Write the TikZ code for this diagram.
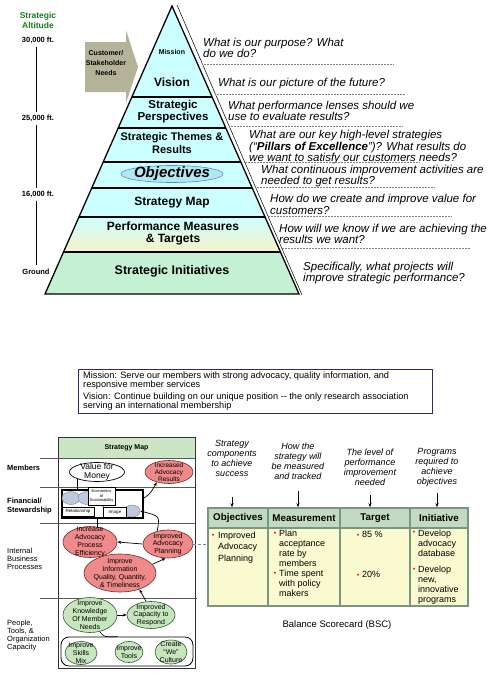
\documentclass[tikz,border=0pt]{standalone}
\usepackage{fontspec}
\setmainfont{Liberation Sans}
\usetikzlibrary{shapes.geometric,arrows.meta,calc}
\newcommand\fsz[2]{\fontsize{#1}{#2}\selectfont}
\definecolor{pcyan}{RGB}{204,255,255}
\definecolor{pyel}{RGB}{246,243,200}
\definecolor{pgrn}{RGB}{196,240,212}
\definecolor{objfill}{RGB}{178,232,240}
\definecolor{objline}{RGB}{90,140,200}
\definecolor{altgreen}{RGB}{30,120,30}
\definecolor{khaki}{RGB}{180,178,152}
\definecolor{navy}{RGB}{40,45,110}
\definecolor{smhead}{RGB}{204,229,196}
\definecolor{redfill}{RGB}{240,138,138}
\definecolor{redline}{RGB}{110,40,40}
\definecolor{grnfill}{RGB}{200,230,190}
\definecolor{grnline}{RGB}{50,90,50}
\definecolor{ovalgray}{RGB}{190,200,222}
\definecolor{bschead}{RGB}{194,218,194}
\definecolor{bscbody}{RGB}{250,250,208}
\definecolor{bscgrid}{RGB}{120,150,130}
\begin{document}
\begin{tikzpicture}[x=1pt,y=-1pt,
  pyr/.style={font=\fsz{12}{13}\bfseries, align=center, inner sep=0},
  qtext/.style={font=\fsz{11.5}{11.5}\itshape, align=left, anchor=north west, inner sep=0},
  sepline/.style={densely dotted, gray, line width=0.5},
  layline/.style={line width=1.6},
  ftl/.style={font=\fsz{7.5}{8}\bfseries, inner sep=0},
  lbl/.style={font=\fsz{7.5}{8}, align=left, anchor=west, inner sep=0},
  rowline/.style={gray!70!black, line width=0.5},
  redel/.style={ellipse, draw=redline, fill=redfill, line width=0.6, inner sep=0},
  grnel/.style={ellipse, draw=grnline, fill=grnfill, line width=0.6, inner sep=0},
  eltx/.style={align=center, font=\fsz{7}{7.8}, inner sep=0},
  arr/.style={-{Stealth[length=4pt,width=3pt]}, line width=0.7},
  hdrc/.style={rectangle, draw=bscgrid, line width=1.5, fill=bschead, font=\fsz{9.8}{11}\bfseries, inner sep=0, minimum height=20},
  bodyc/.style={rectangle, draw=bscgrid, line width=1.5, fill=bscbody, inner sep=0, minimum height=78},
  btx/.style={font=\fsz{9}{10}, align=left, anchor=north west, inner sep=0},
  bul/.style={font=\fsz{7}{7}, text=red, inner sep=0},
  bsch/.style={font=\fsz{9}{10}\itshape, align=center, inner sep=0}
]
\useasboundingbox (0,0) rectangle (497,673);

% ---------- Pyramid ----------
\fill[pcyan] (172,6) -- (212.1,97) -- (131.9,97) -- cycle;
\fill[pcyan] (131.9,97) -- (212.1,97) -- (225.8,128) -- (118.2,128) -- cycle;
\fill[pcyan] (118.2,128) -- (225.8,128) -- (240.8,162) -- (103.2,162) -- cycle;
\fill[pcyan] (103.2,162) -- (240.8,162) -- (252.3,188) -- (91.7,188) -- cycle;
\fill[pcyan] (91.7,188) -- (252.3,188) -- (265.0,217) -- (79.0,217) -- cycle;
\shade[top color=pcyan, middle color=pyel!70!pcyan, bottom color=pyel] (79.0,217) -- (265.0,217) -- (280.5,252) -- (63.5,252) -- cycle;
\fill[pgrn] (63.5,252) -- (280.5,252) -- (299,294) -- (45,294) -- cycle;
\draw[layline] (131.9,97) -- (212.1,97);
\draw[layline] (118.2,128) -- (225.8,128);
\draw[layline] (103.2,162) -- (240.8,162);
\draw[layline] (91.7,188) -- (252.3,188);
\draw[line width=1.1] (79.0,217) -- (265.0,217);
\draw[layline] (63.5,252) -- (280.5,252);
\draw[line width=1.3, line join=miter] (172,6) -- (299,294) -- (45,294) -- cycle;
\draw[line width=0.5] (177,5) -- (302,295);

\node[pyr, font=\fsz{7}{8}\bfseries] (mis) at (172,52) {Mission};
\node[pyr] (vis) at (172,82) {Vision};
\node[pyr, font=\fsz{11.5}{12}\bfseries] (spp) at (173,112) {Strategic\\Perspectives};
\node[pyr, font=\fsz{11}{13}\bfseries] (stm) at (172,143.5) {Strategic Themes \&\\Results};
\node[ellipse, draw=objline, fill=objfill, line width=0.6, minimum width=102, minimum height=17, inner sep=0,
      label={[font=\fsz{15}{15}\bfseries\itshape, inner sep=0]center:Objectives}] (obj) at (172,174) {};
\node[pyr] (smap) at (172,203) {Strategy Map};
\node[pyr, font=\fsz{12}{12.5}\bfseries] (pmt) at (173,233.5) {Performance Measures\\\& Targets};
\node[pyr, font=\fsz{12.5}{13}\bfseries] (sin) at (172,271) {Strategic Initiatives};

% ---------- Right-side questions ----------
\node[qtext] (q1) at (203,37.5) {What is our purpose? What\\do we do?};
\node[qtext] (q2) at (218,77.5) {What is our picture of the future?};
\node[qtext] (q3) at (228,100.5) {What performance lenses should we\\use to evaluate results?};
\node[qtext] (q4) at (249,130) {What are our key high-level strategies\\(``\textbf{Pillars of Excellence}'')? What results do\\we want to satisfy our customers needs?};
\node[qtext] (q5) at (261,164.5) {What continuous improvement activities are\\needed to get results?};
\node[qtext] (q6) at (270,194) {How do we create and improve value for\\customers?};
\node[qtext] (q7) at (279,223.5) {How will we know if we are achieving the\\results we want?};
\node[qtext] (q8) at (303,261.5) {Specifically, what projects will\\improve strategic performance?};
\draw[sepline] (202.4,64) -- (393,64);
\draw[sepline] (215.4,94) -- (405,94);
\draw[sepline] (229.2,126) -- (403,126);
\draw[sepline] (244.7,162) -- (420,162);
\draw[sepline] (255.4,187) -- (435,187);
\draw[sepline] (267.9,216) -- (452,216);
\draw[sepline] (281.7,248) -- (470,248);

% ---------- Altitude axis ----------
\node[font=\fsz{8.5}{10}\bfseries, text=altgreen, align=center, inner sep=0] (alt) at (38,20) {Strategic\\Altitude};
\node[ftl] (f30) at (38,40) {30,000 ft.};
\node[ftl] (f25) at (38,118) {25,000 ft.};
\node[ftl] (f16) at (38,194) {16,000 ft.};
\node[ftl] (gr) at (36,272) {Ground};
\draw[line width=0.8] ([yshift=-3pt]f30.south -| gr.center) -- ([yshift=3pt]f25.north -| gr.center);
\draw[line width=0.8] ([yshift=-3pt]f25.south -| gr.center) -- ([yshift=3pt]f16.north -| gr.center);
\draw[line width=0.8] ([yshift=-3pt]f16.south -| gr.center) -- ([yshift=4pt]gr.north);

% ---------- Customer arrow ----------
\fill[khaki] (85,42) -- (126,42) -- (126,30) -- (138,67) -- (126,103) -- (126,92) -- (85,92) -- cycle;
\node[font=\fsz{7}{10}\bfseries, align=center, inner sep=0] (cust) at (106,63) {Customer/\\Stakeholder\\Needs};

% ---------- Mission / Vision box ----------
\node[draw=navy, line width=1, minimum width=354, minimum height=44, inner sep=0] (mbox) at (255,391) {};
\node[font=\fsz{9.2}{9}, align=left, anchor=north west, inner sep=0] (m1) at (83,372) {Mission: Serve our members with strong advocacy, quality information, and\\responsive member services};
\node[font=\fsz{9.2}{9}, align=left, anchor=north west, inner sep=0] (m2) at (83,392.5) {Vision: Continue building on our unique position {-}{-} the only research association\\serving an international membership};

% ---------- Strategy Map ----------
\node[draw=black!80, line width=1, minimum width=137, minimum height=231, inner sep=0] (smbox) at (126.5,552.5) {};
\node[draw=black!80, fill=smhead, line width=1, minimum width=137, minimum height=21, inner sep=0, font=\fsz{7}{8}\bfseries] (smhd) at (126.5,447.5) {Strategy Map};
\draw[rowline] (40,458) -- (195,458);
\draw[rowline] (40,487) -- (195,487);
\draw[rowline] (40,523) -- (195,523);
\draw[rowline] (40,598) -- (197,598);
\node[lbl, font=\fsz{7.5}{8}\bfseries] (lm) at (7,468) {Members};
\node[lbl, font=\fsz{7.5}{9}\bfseries] (lf) at (7,506) {Financial/\\Stewardship};
\node[lbl] (li) at (7,559) {Internal\\Business\\Processes};
\node[lbl] (lp) at (7,635.5) {People,\\Tools, \&\\Organization\\Capacity};

\node[ellipse, draw, fill=white, line width=0.7, minimum width=55, minimum height=19, inner sep=0,
      label={[eltx, font=\fsz{8.5}{8.5}]center:{Value for\\Money}}] (vm) at (97,472) {};
\node[redel, minimum width=48, minimum height=23, label={[eltx, font=\fsz{6.5}{6.8}]center:{Increased\\Advocacy\\Results}}] (iar) at (169,472) {};

\node[draw, line width=1.2, fill=white, minimum width=81, minimum height=28, inner sep=0] (fb) at (102.5,504) {};
\node[ellipse, fill=ovalgray, draw=gray, minimum width=18, minimum height=13, inner sep=0] (g1) at (71,498) {};
\node[ellipse, fill=ovalgray, draw=gray, minimum width=18, minimum height=13, inner sep=0] (g2) at (87,498) {};
\node[ellipse, fill=ovalgray, draw=gray, minimum width=16, minimum height=12, inner sep=0] (g3) at (132,511) {};
\node[draw, fill=white, line width=0.5, minimum width=27, minimum height=18, inner sep=0, align=center, font=\fsz{4}{4.5}] (ecb) at (101.5,496) {Economics\\of\\Sustainability};
\node[draw, fill=white, line width=0.5, minimum width=32, minimum height=9, inner sep=0, font=\fsz{4.5}{5}] (rel) at (78,511.5) {Relationship};
\node[draw, fill=white, line width=0.5, minimum width=23, minimum height=10, inner sep=0, font=\fsz{4.5}{5}] (img) at (115,512) {Image};
\draw[line width=0.5] (ecb.south) -- (img.north west);

\node[redel, minimum width=54, minimum height=31, label={[eltx]center:{Increase\\Advocacy\\Process\\Efficiency}}] (iape) at (90,542) {};
\node[redel, minimum width=50, minimum height=28, label={[eltx]center:{Improved\\Advocacy\\Planning}}] (ap) at (168,544) {};
\node[redel, minimum width=72, minimum height=38, label={[eltx]center:{Improve\\Information\\Quality, Quantity,\\\& Timeliness}}] (ii) at (120,573) {};

\node[grnel, minimum width=54, minimum height=35, label={[eltx]center:{Improve\\Knowledge\\Of Member\\Needs}}] (ikm) at (90,615) {};
\node[grnel, minimum width=48, minimum height=27, label={[eltx]center:{Improved\\Capacity to\\Respond}}] (icr) at (151,615) {};
\node[draw, rounded corners=8, line width=0.8, minimum width=132, minimum height=29, inner sep=0] (grp) at (127,651.5) {};
\node[grnel, minimum width=32, minimum height=23, label={[eltx]center:{Improve\\Skills\\Mix}}] (ism) at (81,653) {};
\node[grnel, minimum width=28, minimum height=21, label={[eltx]center:{Improve\\Tools}}] (itl) at (129,652) {};
\node[grnel, minimum width=32, minimum height=24, label={[eltx]center:{Create\\``We''\\Culture}}] (cwc) at (171,652) {};

\coordinate (vmfoot) at (77,478.5);
\draw[line width=0.7] (fb.north -| vmfoot) -- (vmfoot);
\draw[arr] ($(fb.north east)!0.3!(fb.south east)$) .. controls (150,494) .. (iar.220);
\draw[arr] (ap.130) .. controls (160,516) .. (g3.east);
\coordinate (iatop) at (97,527.5);
\draw[line width=0.7] (fb.south -| iatop) -- (iatop);
\draw[arr] (ap.west) -- (iape.east);
\draw[arr] (ii.15) -- (ap.260);
\draw[arr] (ikm.east) -- (icr.west);
\draw[arr] ([xshift=-5pt]icr.north) -- (ii.320);
\draw[line width=0.6] (ikm.300) .. controls (104,637) .. (grp.north -| 118,0);

% ---------- Balanced Scorecard ----------
\node[bsch] (hd1) at (232,458) {Strategy\\components\\to achieve\\success};
\node[bsch] (hd2) at (298,461) {How the\\strategy will\\be measured\\and tracked};
\node[bsch] (hd3) at (370,467.5) {The level of\\performance\\improvement\\needed};
\node[bsch] (hd4) at (437,467.5) {Programs\\required to\\achieve\\objectives};

\node[bodyc, minimum width=60] (b1) at (238,567) {};
\node[bodyc, minimum width=72] (b2) at (304,567) {};
\node[bodyc, minimum width=70] (b3) at (375,567) {};
\node[bodyc, minimum width=58] (b4) at (439,567) {};
\node[hdrc, minimum width=60] (h1) at (238,518) {Objectives};
\node[hdrc, minimum width=72] (h2) at (304,518) {Measurement};
\node[hdrc, minimum width=70] (h3) at (375,518) {Target};
\node[hdrc, minimum width=58] (h4) at (439,518) {Initiative};

\coordinate (a1) at (232,497);
\coordinate (a2) at (298,491);
\coordinate (a3) at (370,495);
\coordinate (a4) at (437,493);
\draw[arr] (a1) -- (a1 |- h1.north);
\draw[arr] (a2) -- (a2 |- h2.north);
\draw[arr] (a3) -- (a3 |- h3.north);
\draw[arr] (a4) -- (a4 |- h4.north);

\node[bul] (u1) at (213,536) {\textbullet};
\node[btx, font=\fsz{9}{11.5}] (t1) at (218,531.5) {Improved\\Advocacy\\Planning};
\node[bul] (u2) at (275,534) {\textbullet};
\node[btx] (t2) at (279,529.5) {Plan\\acceptance\\rate by\\members};
\node[bul] (u3) at (275,574) {\textbullet};
\node[btx] (t3) at (279,569.5) {Time spent\\with policy\\makers};
\node[bul] (u4) at (358,536) {\textbullet};
\node[btx] (t4) at (362,531.5) {85 \%};
\node[bul] (u5) at (358,576) {\textbullet};
\node[btx] (t5) at (362,571.5) {20\%};
\node[bul] (u6) at (414,533) {\textbullet};
\node[btx] (t6) at (418,529.5) {Develop\\advocacy\\database};
\node[bul] (u7) at (414,570) {\textbullet};
\node[btx] (t7) at (418,566) {Develop\\new,\\innovative\\programs};

\draw[densely dashed, objline, line width=0.8] (ap.east) -- (ap.east -| b1.west);

\node[font=\fsz{9.5}{10}, inner sep=0] (cap) at (337,625) {Balance Scorecard (BSC)};
\end{tikzpicture}
\end{document}
